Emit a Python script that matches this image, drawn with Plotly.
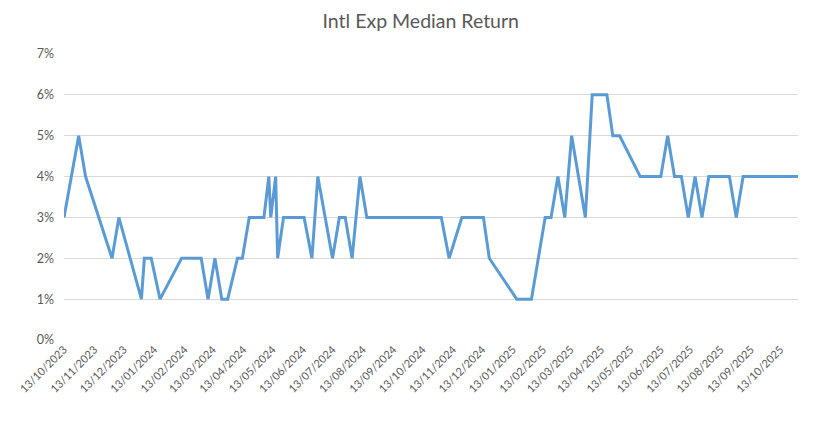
import plotly.graph_objects as go
from datetime import date

dates = [
    "2023-10-13", "2023-10-28", "2023-11-04", "2023-12-01", "2023-12-08", "2023-12-31",
    "2024-01-03", "2024-01-10", "2024-01-19", "2024-02-10", "2024-03-01", "2024-03-08",
    "2024-03-15", "2024-03-22", "2024-03-28", "2024-04-07", "2024-04-12", "2024-04-19",
    "2024-05-04", "2024-05-09", "2024-05-11", "2024-05-16", "2024-05-18", "2024-05-24",
    "2024-06-14", "2024-06-22", "2024-06-28", "2024-07-13", "2024-07-20", "2024-07-26",
    "2024-08-02", "2024-08-10", "2024-08-17", "2024-11-01", "2024-11-09", "2024-11-22",
    "2024-12-14", "2024-12-20", "2025-01-17", "2025-02-01", "2025-02-15", "2025-02-21",
    "2025-02-28", "2025-03-07", "2025-03-14", "2025-03-28", "2025-04-04", "2025-04-19",
    "2025-04-25", "2025-05-02", "2025-05-23", "2025-06-13", "2025-06-20", "2025-06-27",
    "2025-07-04", "2025-07-11", "2025-07-18", "2025-07-25", "2025-08-01", "2025-08-22",
    "2025-08-29", "2025-09-05", "2025-10-31",
]
median_return = [
    0.03, 0.05, 0.04, 0.02, 0.03, 0.01,
    0.02, 0.02, 0.01, 0.02, 0.02, 0.01,
    0.02, 0.01, 0.01, 0.02, 0.02, 0.03,
    0.03, 0.04, 0.03, 0.04, 0.02, 0.03,
    0.03, 0.02, 0.04, 0.02, 0.03, 0.03,
    0.02, 0.04, 0.03, 0.03, 0.02, 0.03,
    0.03, 0.02, 0.01, 0.01, 0.03, 0.03,
    0.04, 0.03, 0.05, 0.03, 0.06, 0.06,
    0.05, 0.05, 0.04, 0.04, 0.05, 0.04,
    0.04, 0.03, 0.04, 0.03, 0.04, 0.04,
    0.03, 0.04, 0.04,
]

tick_dates = [
    "2023-10-13", "2023-11-13", "2023-12-13", "2024-01-13", "2024-02-13", "2024-03-13",
    "2024-04-13", "2024-05-13", "2024-06-13", "2024-07-13", "2024-08-13", "2024-09-13",
    "2024-10-13", "2024-11-13", "2024-12-13", "2025-01-13", "2025-02-13", "2025-03-13",
    "2025-04-13", "2025-05-13", "2025-06-13", "2025-07-13", "2025-08-13", "2025-09-13",
    "2025-10-13",
]
tick_labels = [date.fromisoformat(d).strftime("%d/%m/%Y") for d in tick_dates]

y_ticks = [0, 0.01, 0.02, 0.03, 0.04, 0.05, 0.06, 0.07]

title_text = "Intl Exp Median Return"

FONT = "Lato"
GREY = "#595959"
GRID = "#d9d9d9"

fig = go.Figure()
fig.add_trace(go.Scatter(
    x=dates, y=median_return, mode="lines",
    line=dict(color="#5B9BD5", width=3),
    hoverinfo="x+y", showlegend=False,
))

fig.update_layout(
    width=825, height=427,
    margin=dict(l=64, r=27, t=54, b=87, autoexpand=False),
    paper_bgcolor="white", plot_bgcolor="white",
    title=dict(text=title_text, x=0.51, xref="container", xanchor="center",
               y=1 - 14 / 427, yref="container", yanchor="top",
               font=dict(family=FONT, size=19.5, color=GREY)),
    font=dict(family=FONT, size=12, color=GREY),
    xaxis=dict(
        type="date", range=["2023-10-13", "2025-10-31"],
        tickmode="array", tickvals=tick_dates, ticktext=tick_labels,
        tickangle=-45, showgrid=False, zeroline=False, showline=False,
        ticks="", automargin=False, tickfont=dict(family=FONT, size=11, color=GREY),
    ),
    yaxis=dict(
        range=[0, 0.07], tickmode="array", tickvals=y_ticks, tickformat=".0%",
        showgrid=True, gridcolor=GRID, gridwidth=1, zeroline=False, showline=False,
        ticks="", automargin=False, ticklabelstandoff=9,
        tickfont=dict(family=FONT, size=12.5, color=GREY),
    ),
)

fig.write_html("out.html", config={"displayModeBar": False},
               post_script="document.body.style.margin='0';")
